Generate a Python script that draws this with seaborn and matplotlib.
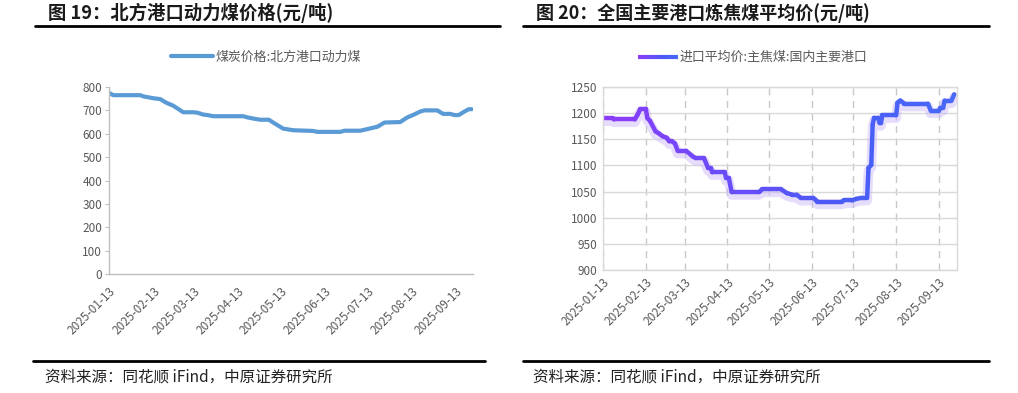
import matplotlib
matplotlib.use("Agg")
import matplotlib.pyplot as plt
import matplotlib.dates as mdates
from matplotlib.lines import Line2D
from matplotlib.collections import LineCollection
from matplotlib.colors import LinearSegmentedColormap
import seaborn as sns
import pandas as pd
import numpy as np

sns.set_style("white")
plt.rcParams['font.family'] = ['Noto Sans CJK SC', 'DejaVu Sans']

# 图19：北方港口动力煤价格
thermal_dates = ["2025-01-13", "2025-01-16", "2025-02-04", "2025-02-06", "2025-02-13",
                 "2025-02-18", "2025-02-22", "2025-02-27", "2025-03-04", "2025-03-06",
                 "2025-03-13", "2025-03-16", "2025-03-20", "2025-03-23", "2025-03-27",
                 "2025-04-17", "2025-04-20", "2025-04-24", "2025-04-29", "2025-05-05",
                 "2025-05-08", "2025-05-15", "2025-05-22", "2025-06-05", "2025-06-08",
                 "2025-06-24", "2025-06-27", "2025-07-08", "2025-07-13", "2025-07-20",
                 "2025-07-25", "2025-08-05", "2025-08-10", "2025-08-15", "2025-08-19",
                 "2025-08-22", "2025-08-31", "2025-09-04", "2025-09-09", "2025-09-12",
                 "2025-09-15", "2025-09-19", "2025-09-22", "2025-09-24"]
thermal_price = [775, 765, 765, 760, 752, 748, 733, 720, 700, 692,
                 692, 690, 682, 680, 675, 675, 670, 665, 660, 660,
                 648, 622, 615, 612, 608, 608, 613, 613, 620, 630,
                 648, 650, 670, 683, 695, 700, 700, 685, 685, 680,
                 680, 695, 705, 705]

# 图20：全国主要港口炼焦煤平均价
coking_dates = ["2025-01-13", "2025-01-20", "2025-01-21", "2025-02-05", "2025-02-07",
                "2025-02-09", "2025-02-13", "2025-02-14", "2025-02-16", "2025-02-20",
                "2025-02-22", "2025-02-25", "2025-02-28", "2025-03-02", "2025-03-04",
                "2025-03-06", "2025-03-08", "2025-03-14", "2025-03-19", "2025-03-21",
                "2025-03-27", "2025-03-30", "2025-04-01", "2025-04-02", "2025-04-11",
                "2025-04-12", "2025-04-14", "2025-04-16", "2025-05-06", "2025-05-08",
                "2025-05-22", "2025-05-26", "2025-05-30", "2025-06-02", "2025-06-05",
                "2025-06-14", "2025-06-17", "2025-07-05", "2025-07-06", "2025-07-12",
                "2025-07-15", "2025-07-19", "2025-07-23", "2025-07-24", "2025-07-26",
                "2025-07-27", "2025-07-28", "2025-07-31", "2025-08-01", "2025-08-02",
                "2025-08-03", "2025-08-13", "2025-08-14", "2025-08-16", "2025-08-19",
                "2025-09-05", "2025-09-07", "2025-09-13", "2025-09-14", "2025-09-16",
                "2025-09-17", "2025-09-22", "2025-09-24"]
coking_price = [1190, 1190, 1188, 1188, 1197, 1208, 1208, 1191, 1185, 1165,
                1162, 1156, 1153, 1146, 1146, 1142, 1128, 1128, 1117, 1114,
                1114, 1095, 1095, 1087, 1087, 1076, 1076, 1049, 1049, 1054,
                1054, 1047, 1044, 1044, 1038, 1038, 1031, 1031, 1033, 1033,
                1036, 1038, 1038, 1095, 1101, 1178, 1191, 1191, 1181, 1181,
                1196, 1196, 1220, 1224, 1218, 1218, 1205, 1205, 1210, 1210,
                1224, 1224, 1236]

tick_labels = ["2025-01-13", "2025-02-13", "2025-03-13", "2025-04-13", "2025-05-13",
               "2025-06-13", "2025-07-13", "2025-08-13", "2025-09-13"]

thermal = pd.DataFrame({"date": pd.to_datetime(thermal_dates), "price": thermal_price})
coking = pd.DataFrame({"date": pd.to_datetime(coking_dates), "price": coking_price})
ticks = pd.to_datetime(tick_labels)

W, H = 1018, 393
fig = plt.figure(figsize=(W / 100, H / 100), dpi=100)
fig.patch.set_facecolor("white")

def fx(px):
    return px / W

def fy(py):
    return 1 - py / H

grey_txt = "#595959"

# ---- titles / separators / sources ----
fig.text(fx(48), fy(13), "图 19：北方港口动力煤价格(元/吨)", fontsize=13.2,
         fontweight="bold", color="#1a1a1a", va="center")
fig.text(fx(536), fy(13), "图 20：全国主要港口炼焦煤平均价(元/吨)", fontsize=13,
         fontweight="bold", color="#1a1a1a", va="center")
for x0, x1 in [(35, 500), (523, 989)]:
    fig.add_artist(Line2D([fx(x0), fx(x1)], [fy(26), fy(26)], color="black", lw=2))
for x0, x1 in [(33, 485), (523, 989)]:
    fig.add_artist(Line2D([fx(x0), fx(x1)], [fy(361), fy(361)], color="black", lw=2))
for x0 in [45, 533]:
    fig.text(fx(x0), fy(377), "资料来源：同花顺 iFind，中原证券研究所", fontsize=11.2,
             color="#222222", va="center")

# ---- left chart ----
ax1 = fig.add_axes([fx(109), fy(274), fx(473) - fx(109), fy(87) - fy(274)])
sns.lineplot(data=thermal, x="date", y="price", ax=ax1, color="#5B9BD5",
             linewidth=3, label="煤炭价格:北方港口动力煤", legend=False)
ax1.set_ylim(0, 800)
ax1.set_yticks(range(0, 801, 100))
ax1.set_xlim(pd.Timestamp("2025-01-13"), pd.Timestamp("2025-09-25"))
ax1.set_xticks(ticks)
ax1.set_xticklabels(tick_labels, rotation=45, ha="right", rotation_mode="anchor")
ax1.set_xlabel("")
ax1.set_ylabel("")
for s in ["top", "right"]:
    ax1.spines[s].set_visible(False)
for s in ["left", "bottom"]:
    ax1.spines[s].set_color("#BFBFBF")
    ax1.spines[s].set_linewidth(1)
ax1.tick_params(axis="y", left=True, length=3, color="#BFBFBF", labelsize=8.5,
                labelcolor=grey_txt, pad=2)
ax1.tick_params(axis="x", bottom=False, labelsize=8.5, labelcolor=grey_txt, pad=4)
ax1.grid(False)
leg1 = fig.legend(handles=[Line2D([], [], color="#5B9BD5", lw=3)],
                  labels=["煤炭价格:北方港口动力煤"], loc="center",
                  bbox_to_anchor=(fx(266), fy(57)), frameon=False, fontsize=9.3,
                  handlelength=3.2, handletextpad=0.2)
for t in leg1.get_texts():
    t.set_color(grey_txt)

# ---- right chart ----
ax2 = fig.add_axes([fx(603), fy(270), fx(957) - fx(603), fy(87) - fy(270)])
# soft glow under the line
sns.lineplot(data=coking, x="date", y="price", ax=ax2, color="#C9B3FA",
             linewidth=7, alpha=0.45, legend=False)
ax2.lines[-1].set_transform(ax2.lines[-1].get_transform() +
                            matplotlib.transforms.ScaledTranslation(0, -2 / 72, fig.dpi_scale_trans))
# gradient purple -> blue main line
cmap = LinearSegmentedColormap.from_list("pb", ["#8C3CF8", "#6A4CF8", "#4A5CF6", "#4868F8"])
xs = mdates.date2num(coking["date"])
ys = coking["price"].to_numpy(dtype=float)
pts = np.column_stack([xs, ys]).reshape(-1, 1, 2)
segs = np.concatenate([pts[:-1], pts[1:]], axis=1)
lc = LineCollection(segs, cmap=cmap, linewidth=3.2, capstyle="round", joinstyle="round")
lc.set_array((xs[:-1] - xs[0]) / (xs[-1] - xs[0]))
ax2.add_collection(lc)
ax2.set_ylim(900, 1250)
ax2.set_yticks(range(900, 1251, 50))
ax2.set_xlim(pd.Timestamp("2025-01-13"), pd.Timestamp("2025-09-26"))
ax2.set_xticks(ticks)
ax2.set_xticklabels(tick_labels, rotation=45, ha="right", rotation_mode="anchor")
ax2.set_xlabel("")
ax2.set_ylabel("")
for s in ax2.spines.values():
    s.set_color("#D9D9D9")
    s.set_linewidth(1)
ax2.yaxis.grid(True, color="#D9D9D9", linewidth=1)
ax2.xaxis.grid(True, color="#C8C8C8", linewidth=1, linestyle=(0, (5, 4)))
ax2.set_axisbelow(True)
ax2.tick_params(axis="both", length=0, labelsize=8.5, labelcolor=grey_txt)
ax2.tick_params(axis="y", pad=4)
ax2.tick_params(axis="x", pad=4)

# legend with gradient swatch
lx0, lx1, ly = 638, 678, 57
n = 30
gx = np.linspace(fx(lx0), fx(lx1), n)
gsegs = [[(gx[i], fy(ly)), (gx[i + 1], fy(ly))] for i in range(n - 1)]
glc = LineCollection(gsegs, colors=[cmap(i / (n - 2)) for i in range(n - 1)],
                     linewidth=3, transform=fig.transFigure, capstyle="butt")
fig.add_artist(glc)
fig.text(fx(680), fy(ly), "进口平均价:主焦煤:国内主要港口", fontsize=9.3,
         color=grey_txt, va="center")

fig.savefig("out.png", dpi=100, facecolor="white")
